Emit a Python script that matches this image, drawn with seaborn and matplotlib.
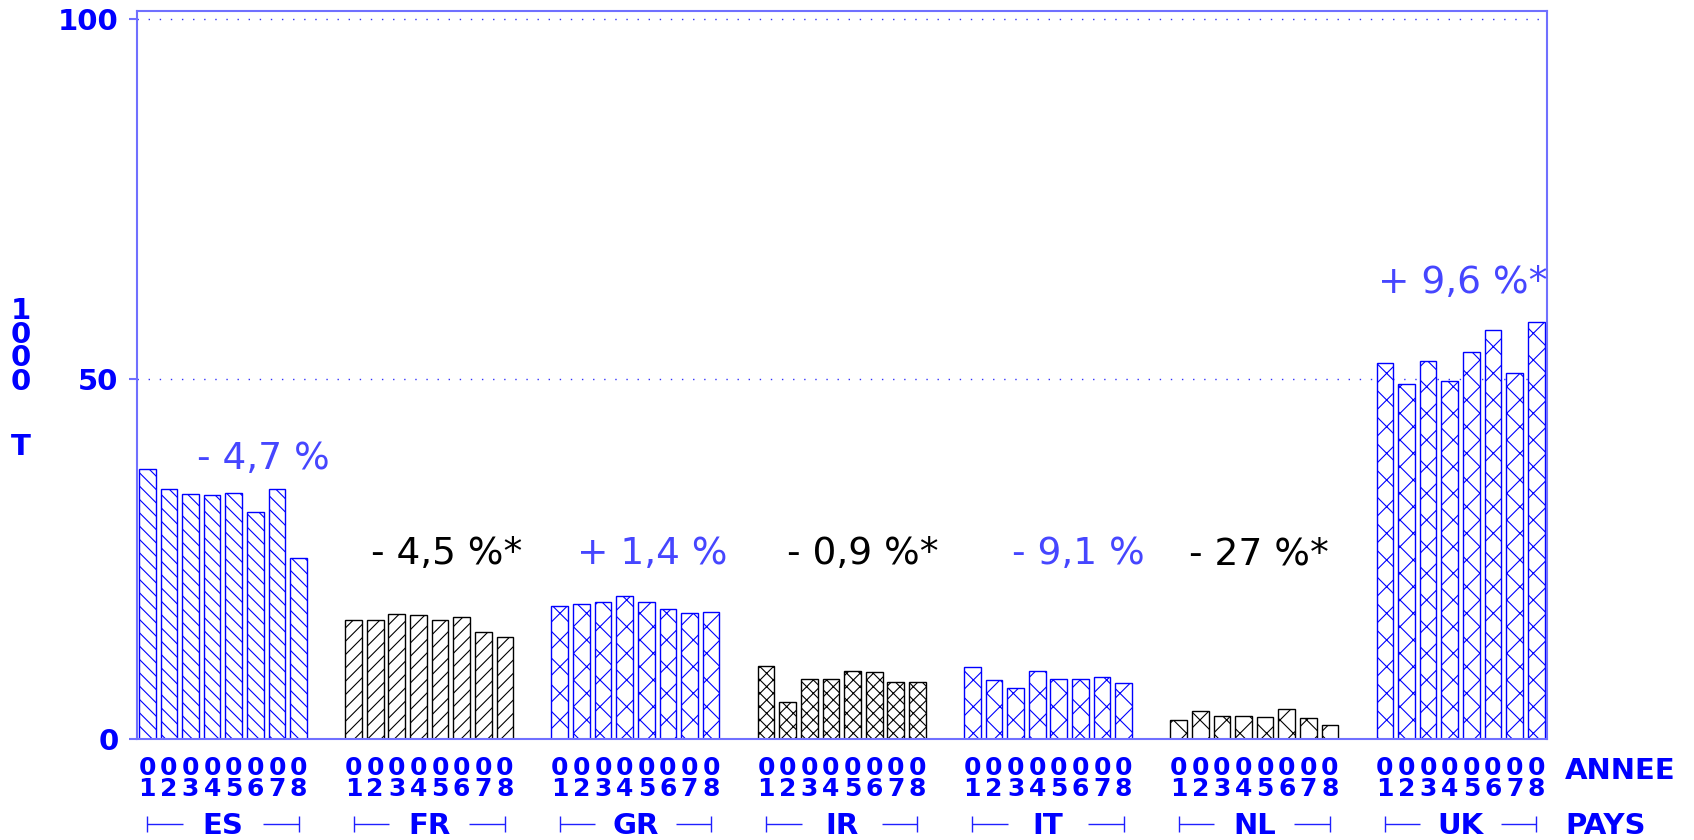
import numpy as np
import pandas as pd
import matplotlib
matplotlib.use("Agg")
import matplotlib.pyplot as plt
import matplotlib.transforms as mtransforms
import seaborn as sns

# ---------------- data ----------------
countries = ["ES", "FR", "GR", "IR", "IT", "NL", "UK"]
years = ["1", "2", "3", "4", "5", "6", "7", "8"]
es = [37.5, 34.7, 34.1, 33.9, 34.2, 31.5, 34.7, 25.1]
fr = [16.6, 16.5, 17.4, 17.2, 16.6, 16.9, 14.8, 14.2]
gr = [18.5, 18.7, 19.1, 19.9, 19.0, 18.1, 17.5, 17.7]
ir = [10.1, 5.2, 8.3, 8.3, 9.4, 9.3, 7.9, 7.9]
it = [10.0, 8.2, 7.1, 9.4, 8.3, 8.3, 8.6, 7.8]
nl = [2.6, 3.9, 3.2, 3.2, 3.0, 4.2, 2.9, 1.9]
uk = [52.3, 49.3, 52.5, 49.8, 53.8, 56.9, 50.9, 57.9]
changes = ["- 4,7 %", "- 4,5 %*", "+ 1,4 %", "- 0,9 %*", "- 9,1 %", "- 27 %*", "+ 9,6 %*"]
y_ticks = [0, 50, 100]
y_ticklabels = ["0", "50", "100"]

# ---------------- layout / style ----------------
DPI = 80
def pt(x):
    # sizes tuned for 100 dpi, rescaled to the rendering dpi
    return x * 100.0 / DPI

GROUP_PITCH = 9.54
BAR_WIDTH = 0.77
change_dx = [1.85, 0.83, 0.77, 0.98, 1.41, 0.2, 0.1]
change_y = [37.5, 24.3, 24.3, 24.3, 24.3, 24.3, 62.0]
BLUE = "#0000FF"
TXT_BLUE = "#4646FF"
SPINE = "#7070FF"
group_color = [BLUE, "black", BLUE, "black", BLUE, "black", BLUE]
text_color = [TXT_BLUE, "black", TXT_BLUE, "black", TXT_BLUE, "black", TXT_BLUE]
group_hatch = ["\\\\", "//", "x", "xx", "x", "x", "x"]

sns.set_theme(style="white")
plt.rcParams["font.family"] = ["DejaVu Sans"]
plt.rcParams["hatch.linewidth"] = pt(0.8)

series = [es, fr, gr, ir, it, nl, uk]
rows = []
for g, (c, vals) in enumerate(zip(countries, series)):
    for i, (yr, v) in enumerate(zip(years, vals)):
        rows.append({"country": c, "year": yr, "pos": g * GROUP_PITCH + i, "value": v})
df = pd.DataFrame(rows).sort_values("pos")

W, H = 1694, 840
fig = plt.figure(figsize=(W / DPI, H / DPI), dpi=DPI)
ax_l, ax_r, ax_t, ax_b = 136.5, 1547, 10.7, 739
ax = fig.add_axes([ax_l / W, (H - ax_b) / H, (ax_r - ax_l) / W, (ax_b - ax_t) / H])

sns.barplot(data=df, x="pos", y="value", native_scale=True, width=BAR_WIDTH,
            errorbar=None, color="white", ax=ax, zorder=3)

for p in ax.patches:
    cx = p.get_x() + p.get_width() / 2
    g = int(round((cx - 3.5) / GROUP_PITCH))
    p.set_facecolor("white")
    p.set_edgecolor(group_color[g])
    p.set_hatch(group_hatch[g])
    p.set_linewidth(pt(1.0))

ax.set_xlim(-0.5, 6 * GROUP_PITCH + 7 + 0.5)
ax.set_ylim(0, 101.2)

# x tick labels (year, stacked digits)
ax.set_xticks(df["pos"].to_numpy(), labels=[f"0\n{y}" for y in df["year"]])
ax.tick_params(axis="x", length=0, pad=pt(12.5), labelsize=pt(18), labelcolor=BLUE)
for t in ax.get_xticklabels():
    t.set_fontweight("bold")
    t.set_linespacing(0.8)

# y ticks
ax.set_yticks(y_ticks, labels=y_ticklabels)
ax.tick_params(axis="y", length=pt(6), width=pt(1.5), color=SPINE, direction="out",
               pad=pt(7), labelsize=pt(21), labelcolor=BLUE, left=True)
for t in ax.get_yticklabels():
    t.set_fontweight("bold")
ax.set_xlabel("")
ax.set_ylabel("")

ax.yaxis.grid(True, linestyle=(0, (1, 7)), color="#3030FF", linewidth=pt(1.0))
ax.xaxis.grid(False)
ax.set_axisbelow(True)
for s in ax.spines.values():
    s.set_visible(True)
    s.set_color(SPINE)
    s.set_linewidth(pt(1.5))
    s.set_zorder(4)

# change annotations
for g in range(len(countries)):
    cx = g * GROUP_PITCH + 3.5
    ax.text(cx + change_dx[g], change_y[g], changes[g], ha="center", va="baseline",
            fontsize=pt(27), color=text_color[g], zorder=5)

# country labels with brackets
axh = ax_b - ax_t
tr = mtransforms.blended_transform_factory(ax.transData, ax.transAxes)
yb = -85 / axh
ytk = 8 / axh
GAP = 1.86
for g, c in enumerate(countries):
    x0 = g * GROUP_PITCH
    x1 = x0 + 7
    cx = x0 + 3.5
    ax.text(cx, -95 / axh, c, transform=tr, ha="center", va="baseline",
            fontsize=pt(21), fontweight="bold", color=BLUE)
    kw = dict(transform=tr, color="#2020FF", lw=pt(1.0), clip_on=False, solid_capstyle="butt")
    ax.plot([x0, cx - GAP], [yb, yb], **kw)
    ax.plot([cx + GAP, x1], [yb, yb], **kw)
    ax.plot([x0, x0], [yb - ytk, yb + ytk], **kw)
    ax.plot([x1, x1], [yb - ytk, yb + ytk], **kw)

fig.text(1565 / W, 1 - 779 / H, "ANNEE", ha="left", va="baseline",
         fontsize=pt(21), fontweight="bold", color=BLUE)
fig.text(1565 / W, 1 - 834 / H, "PAYS", ha="left", va="baseline",
         fontsize=pt(21), fontweight="bold", color=BLUE)

# stacked y-axis unit label
fig.text(21 / W, 1 - 297 / H, "1\n0\n0\n0", ha="center", va="top",
         fontsize=pt(21), fontweight="bold", color=BLUE, linespacing=0.8)
fig.text(21 / W, 1 - 433 / H, "T", ha="center", va="top",
         fontsize=pt(21), fontweight="bold", color=BLUE)

fig.savefig("out.png", dpi=DPI)
